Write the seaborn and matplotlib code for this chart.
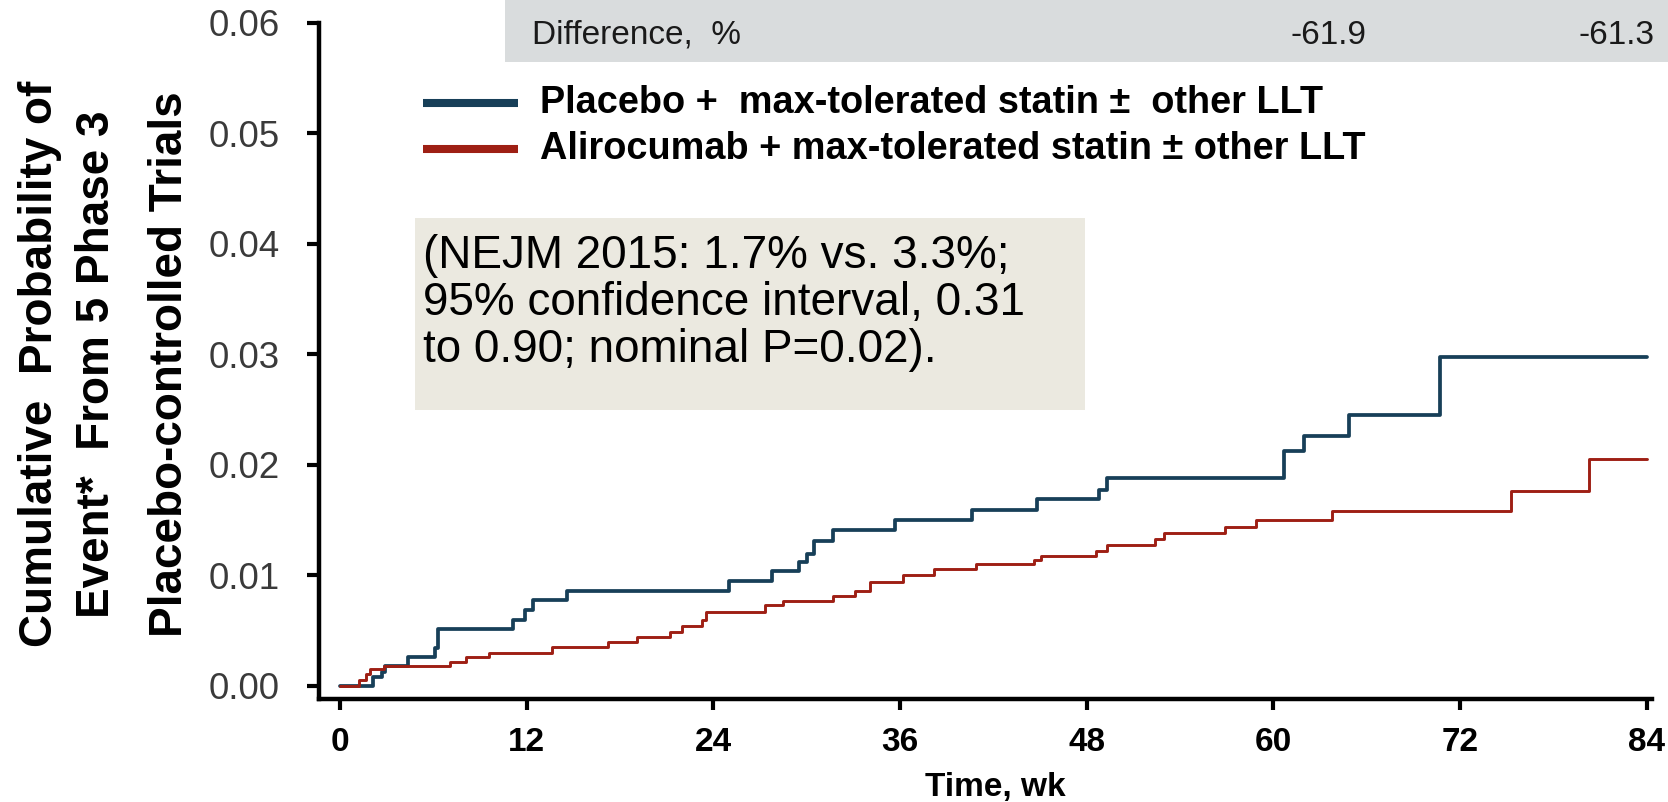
import matplotlib
matplotlib.use("Agg")
import matplotlib.pyplot as plt
from matplotlib import font_manager
from matplotlib.patches import Rectangle
from matplotlib.lines import Line2D
import pandas as pd
import seaborn as sns

# Kaplan-Meier style cumulative event probability (step after each event time)
placebo_weeks = [0, 2.1, 2.7, 2.9, 4.4, 6.1, 6.3, 11.1, 11.9, 12.4, 14.6, 25.0, 27.8,
                 29.5, 30.0, 30.5, 31.7, 35.7, 40.6, 44.8, 48.8, 49.3, 60.7, 62.0,
                 64.9, 70.7, 84.0]
placebo_prob = [0, 0.0008, 0.0013, 0.0018, 0.0026, 0.0034, 0.0052, 0.0060, 0.0069,
                0.0078, 0.0086, 0.0095, 0.0104, 0.0112, 0.0119, 0.0131, 0.0141, 0.0150,
                0.0159, 0.0169, 0.0177, 0.0188, 0.0213, 0.0226, 0.0245, 0.0298, 0.0298]

aliro_weeks = [0, 1.2, 1.7, 1.9, 2.8, 7.1, 8.1, 9.6, 13.6, 17.25, 19.1, 21.2, 22.0,
               23.3, 23.5, 27.3, 28.5, 31.7, 33.1, 34.1, 36.2, 38.2, 40.9, 44.6, 45.1,
               48.6, 49.3, 52.4, 53.0, 56.9, 58.9, 63.8, 75.3, 80.3, 84.0]
aliro_prob = [0, 0.0005, 0.0011, 0.0015, 0.0018, 0.0022, 0.0026, 0.0030, 0.0035, 0.0040,
              0.0044, 0.0049, 0.0054, 0.0060, 0.0067, 0.0073, 0.0077, 0.0081, 0.0086,
              0.0094, 0.0100, 0.0106, 0.0110, 0.0114, 0.0118, 0.0122, 0.0128, 0.0133,
              0.0138, 0.0144, 0.0150, 0.0158, 0.0176, 0.0205, 0.0205]

arm_labels = ["Placebo +  max-tolerated statin \u00b1  other LLT",
              "Alirocumab + max-tolerated statin \u00b1 other LLT"]
arm_colors = ["#173f58", "#9e1f14"]

x_ticks = [0, 12, 24, 36, 48, 60, 72, 84]
y_ticks = [0.00, 0.01, 0.02, 0.03, 0.04, 0.05, 0.06]

diff_title = "Difference,  %"
diff_values = ["-61.9", "-61.3"]

y_label_lines = ["Cumulative  Probability of",
                 "Event*  From 5 Phase 3",
                 "Placebo-controlled Trials"]
x_label = "Time, wk"
note_lines = ["(NEJM 2015: 1.7% vs. 3.3%;",
              "95% confidence interval, 0.31",
              "to 0.90; nominal P=0.02)."]

# ---------------------------------------------------------------- styling
sns.set_theme(style="ticks")
installed = {f.name for f in font_manager.fontManager.ttflist}
SANS = "Liberation Sans" if "Liberation Sans" in installed else "DejaVu Sans"
if "Liberation Sans Narrow" in installed:
    NARROW, tick_size, xlabel_size = "Liberation Sans Narrow", 28, 27.5
else:
    NARROW, tick_size, xlabel_size = SANS, 24, 24
plt.rcParams["font.family"] = [SANS, "DejaVu Sans"]

W, H = 1668, 802
fig = plt.figure(figsize=(W / 100, H / 100), dpi=100)
fig.patch.set_facecolor("white")


def fx(px):
    return px / W


def fy(py):
    return 1 - py / H


ax_left, ax_right, ax_top, ax_bottom = 319, 1652, 23, 699
ax = fig.add_axes([fx(ax_left), fy(ax_bottom), fx(ax_right - ax_left), (ax_bottom - ax_top) / H])
ax.set_facecolor("white")

df_placebo = pd.DataFrame({"week": placebo_weeks, "prob": placebo_prob})
df_aliro = pd.DataFrame({"week": aliro_weeks, "prob": aliro_prob})
sns.lineplot(data=df_placebo, x="week", y="prob", ax=ax, color=arm_colors[0],
             drawstyle="steps-post", linewidth=2.7, estimator=None, zorder=3)
sns.lineplot(data=df_aliro, x="week", y="prob", ax=ax, color=arm_colors[1],
             drawstyle="steps-post", linewidth=2.1, estimator=None, zorder=3)

ax.set_xlim(-1.35, 84.35)
ax.set_ylim(-0.00118, 0.06)
ax.set_xticks(x_ticks)
ax.set_xticklabels([str(t) for t in x_ticks], fontfamily=[NARROW, "DejaVu Sans"],
                   fontweight="bold", fontsize=tick_size, color="black")
ax.set_yticks(y_ticks)
ax.set_yticklabels([f"{v:.2f}" for v in y_ticks], fontsize=26.5, color="#3a3a3a")
ax.tick_params(axis="y", length=9, width=3, pad=19, color="black")
ax.tick_params(axis="x", length=8, width=3, pad=12, color="black")
for side in ("top", "right"):
    ax.spines[side].set_visible(False)
for side in ("left", "bottom"):
    ax.spines[side].set_linewidth(3.2)
    ax.spines[side].set_color("black")
ax.set_ylabel("")
ax.set_xlabel(x_label, fontfamily=[NARROW, "DejaVu Sans"], fontweight="bold",
              fontsize=xlabel_size, color="black")
ax.xaxis.set_label_coords((995 - ax_left) / (ax_right - ax_left),
                          (ax_bottom - 796) / (ax_bottom - ax_top))
ax.xaxis.label.set_va("baseline")

# multi-line rotated y-axis title
for xb, line in zip([52, 109, 182], y_label_lines):
    fig.text(fx(xb), fy(364), line, rotation=90, rotation_mode="anchor",
             ha="center", va="baseline", fontsize=33, fontweight="bold", color="black")

# difference row at the top
fig.add_artist(Rectangle((fx(505), fy(62)), fx(W - 505), 62 / H,
                         transform=fig.transFigure, facecolor="#d9dcdd",
                         edgecolor="none", zorder=5))
fig.text(fx(532), fy(35), diff_title, ha="left", va="center", fontsize=24,
         color="#1a1a1a", zorder=6)
for xc, val in zip([1328, 1617], diff_values):
    fig.text(fx(xc), fy(35), val, ha="center", va="center", fontsize=24,
             color="#1a1a1a", zorder=6)

# legend
for yc, label, color in zip([103, 149], arm_labels, arm_colors):
    fig.add_artist(Line2D([fx(423), fx(518)], [fy(yc), fy(yc)],
                          transform=fig.transFigure, color=color, linewidth=5.8,
                          solid_capstyle="butt"))
    fig.text(fx(540), fy(yc), label, ha="left", va="center", fontsize=27.3,
             fontweight="bold", color="black")

# annotation panel
fig.add_artist(Rectangle((fx(415), fy(410)), fx(1085 - 415), (410 - 218) / H,
                         transform=fig.transFigure, facecolor="#ebe9e0",
                         edgecolor="none", zorder=4))
for yb, line in zip([268, 315, 362], note_lines):
    fig.text(fx(423), fy(yb), line, ha="left", va="baseline", fontsize=33,
             color="black", zorder=6)

fig.savefig("out.png", dpi=100, facecolor="white")
